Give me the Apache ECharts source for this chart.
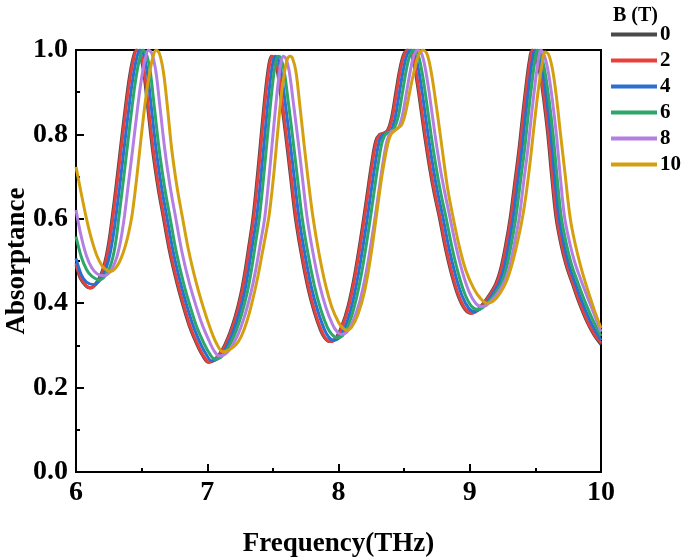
<!DOCTYPE html>
<html><head><meta charset="utf-8">
<script src="https://cdn.jsdelivr.net/npm/echarts@6/dist/echarts.min.js"></script>
<style>html,body{margin:0;padding:0;background:#fff}#c{width:685px;height:559px}</style>
</head><body><div id="c"></div>
<script>
const seriesNames = ['0', '2', '4', '6', '8', '10'];
const xTicks = [6, 7, 8, 9, 10];
const yTicks = [0, 0.2, 0.4, 0.6, 0.8, 1.0];

const b0 = [[6.00,0.490],[6.034,0.458],[6.074,0.441],[6.108,0.436],[6.144,0.444],[6.174,0.458],[6.204,0.480],[6.229,0.510],[6.252,0.550],[6.274,0.600],[6.304,0.675],[6.337,0.763],[6.374,0.860],[6.404,0.930],[6.434,0.980],[6.459,1.0],[6.484,0.992],[6.514,0.950],[6.544,0.870],[6.583,0.763],[6.624,0.675],[6.664,0.605],[6.714,0.520],[6.769,0.447],[6.824,0.385],[6.87,0.340],[6.924,0.300],[6.964,0.276],[7.009,0.260],[7.054,0.266],[7.094,0.280],[7.134,0.302],[7.174,0.332],[7.214,0.370],[7.254,0.420],[7.284,0.470],[7.314,0.530],[7.349,0.605],[7.384,0.710],[7.414,0.810],[7.444,0.905],[7.469,0.965],[7.489,0.985],[7.509,0.980],[7.534,0.950],[7.564,0.880],[7.604,0.780],[7.634,0.700],[7.67,0.605],[7.714,0.520],[7.764,0.440],[7.814,0.380],[7.864,0.335],[7.894,0.318],[7.929,0.309],[7.974,0.315],[8.024,0.345],[8.074,0.395],[8.124,0.470],[8.174,0.565],[8.214,0.650],[8.254,0.735],[8.284,0.785],[8.314,0.800],[8.344,0.803],[8.374,0.810],[8.404,0.840],[8.434,0.895],[8.464,0.950],[8.494,0.988],[8.524,1.0],[8.554,0.990],[8.584,0.950],[8.614,0.890],[8.654,0.800],[8.694,0.720],[8.729,0.660],[8.767,0.605],[8.814,0.530],[8.864,0.465],[8.914,0.415],[8.964,0.385],[9.009,0.376],[9.054,0.383],[9.104,0.400],[9.154,0.422],[9.199,0.447],[9.234,0.480],[9.274,0.540],[9.309,0.605],[9.344,0.690],[9.374,0.763],[9.404,0.850],[9.434,0.930],[9.454,0.975],[9.474,1.0],[9.504,0.985],[9.534,0.945],[9.564,0.880],[9.594,0.800],[9.624,0.700],[9.656,0.605],[9.694,0.540],[9.734,0.490],[9.781,0.447],[9.834,0.400],[9.894,0.355],[9.944,0.326],[10.0,0.302]];

const b2 = [[6.00,0.495],[6.04,0.458],[6.08,0.441],[6.114,0.436],[6.15,0.444],[6.18,0.458],[6.21,0.480],[6.235,0.510],[6.258,0.550],[6.28,0.600],[6.31,0.675],[6.343,0.763],[6.38,0.860],[6.41,0.930],[6.44,0.980],[6.465,1.0],[6.49,0.992],[6.52,0.950],[6.55,0.870],[6.589,0.763],[6.63,0.675],[6.67,0.605],[6.72,0.520],[6.775,0.447],[6.83,0.385],[6.876,0.340],[6.93,0.300],[6.97,0.276],[7.015,0.260],[7.06,0.266],[7.10,0.280],[7.14,0.302],[7.18,0.332],[7.22,0.370],[7.26,0.420],[7.29,0.470],[7.32,0.530],[7.355,0.605],[7.39,0.710],[7.42,0.810],[7.45,0.905],[7.475,0.965],[7.495,0.985],[7.515,0.980],[7.54,0.950],[7.57,0.880],[7.61,0.780],[7.64,0.700],[7.676,0.605],[7.72,0.520],[7.77,0.440],[7.82,0.380],[7.87,0.335],[7.90,0.318],[7.935,0.309],[7.98,0.315],[8.03,0.345],[8.08,0.395],[8.13,0.470],[8.18,0.565],[8.22,0.650],[8.26,0.735],[8.29,0.785],[8.32,0.800],[8.35,0.803],[8.38,0.810],[8.41,0.840],[8.44,0.895],[8.47,0.950],[8.50,0.988],[8.53,1.0],[8.56,0.990],[8.59,0.950],[8.62,0.890],[8.66,0.800],[8.70,0.720],[8.735,0.660],[8.773,0.605],[8.82,0.530],[8.87,0.465],[8.92,0.415],[8.97,0.385],[9.015,0.376],[9.06,0.383],[9.11,0.400],[9.16,0.422],[9.205,0.447],[9.24,0.480],[9.28,0.540],[9.315,0.605],[9.35,0.690],[9.38,0.763],[9.41,0.850],[9.44,0.930],[9.46,0.975],[9.48,1.0],[9.51,0.985],[9.54,0.945],[9.57,0.880],[9.60,0.800],[9.63,0.700],[9.662,0.605],[9.70,0.540],[9.74,0.490],[9.787,0.447],[9.84,0.400],[9.90,0.355],[9.95,0.326],[10.0,0.306]];

const b4 = [[6.00,0.506],[6.04,0.468],[6.08,0.450],[6.14,0.444],[6.175,0.452],[6.205,0.466],[6.235,0.488],[6.26,0.518],[6.282,0.556],[6.304,0.605],[6.332,0.675],[6.365,0.763],[6.402,0.860],[6.432,0.930],[6.462,0.980],[6.487,1.0],[6.512,0.992],[6.542,0.950],[6.572,0.870],[6.611,0.763],[6.652,0.675],[6.692,0.605],[6.742,0.520],[6.797,0.447],[6.852,0.386],[6.898,0.342],[6.952,0.302],[6.992,0.279],[7.035,0.263],[7.08,0.268],[7.12,0.282],[7.16,0.304],[7.20,0.334],[7.24,0.372],[7.28,0.420],[7.31,0.470],[7.34,0.530],[7.377,0.605],[7.412,0.710],[7.442,0.810],[7.472,0.905],[7.497,0.965],[7.518,0.985],[7.538,0.980],[7.562,0.950],[7.592,0.880],[7.632,0.780],[7.662,0.700],[7.698,0.605],[7.742,0.520],[7.792,0.440],[7.842,0.382],[7.892,0.338],[7.925,0.320],[7.96,0.312],[8.005,0.318],[8.055,0.347],[8.102,0.395],[8.152,0.470],[8.202,0.565],[8.242,0.650],[8.282,0.735],[8.312,0.785],[8.342,0.800],[8.372,0.803],[8.402,0.810],[8.432,0.840],[8.462,0.895],[8.492,0.950],[8.522,0.988],[8.552,1.0],[8.582,0.990],[8.612,0.950],[8.642,0.890],[8.682,0.800],[8.722,0.720],[8.757,0.660],[8.795,0.605],[8.842,0.530],[8.892,0.466],[8.942,0.417],[8.992,0.388],[9.035,0.380],[9.08,0.386],[9.13,0.402],[9.18,0.424],[9.225,0.449],[9.26,0.482],[9.298,0.540],[9.332,0.605],[9.367,0.690],[9.397,0.763],[9.427,0.850],[9.457,0.930],[9.477,0.975],[9.497,1.0],[9.527,0.985],[9.557,0.945],[9.587,0.880],[9.617,0.800],[9.647,0.700],[9.679,0.605],[9.717,0.540],[9.757,0.490],[9.804,0.447],[9.857,0.402],[9.917,0.358],[9.96,0.333],[10.0,0.312]];

const b6 = [[6.00,0.558],[6.04,0.510],[6.08,0.480],[6.12,0.464],[6.178,0.455],[6.215,0.462],[6.245,0.476],[6.27,0.496],[6.29,0.522],[6.308,0.556],[6.327,0.605],[6.355,0.675],[6.388,0.763],[6.425,0.860],[6.455,0.930],[6.485,0.980],[6.51,1.0],[6.535,0.992],[6.565,0.950],[6.595,0.870],[6.634,0.763],[6.675,0.675],[6.715,0.605],[6.765,0.520],[6.82,0.447],[6.875,0.387],[6.921,0.343],[6.975,0.305],[7.015,0.282],[7.058,0.267],[7.103,0.272],[7.143,0.286],[7.183,0.308],[7.223,0.337],[7.263,0.375],[7.303,0.423],[7.333,0.472],[7.363,0.532],[7.398,0.605],[7.433,0.710],[7.463,0.810],[7.493,0.905],[7.518,0.965],[7.541,0.985],[7.561,0.980],[7.586,0.950],[7.616,0.880],[7.656,0.780],[7.686,0.700],[7.722,0.605],[7.766,0.520],[7.816,0.442],[7.866,0.384],[7.916,0.342],[7.950,0.326],[7.988,0.318],[8.03,0.323],[8.078,0.350],[8.125,0.397],[8.175,0.470],[8.225,0.565],[8.265,0.650],[8.305,0.735],[8.335,0.785],[8.365,0.803],[8.395,0.806],[8.425,0.815],[8.455,0.842],[8.485,0.895],[8.515,0.950],[8.545,0.988],[8.575,1.0],[8.605,0.990],[8.635,0.950],[8.665,0.890],[8.705,0.800],[8.745,0.720],[8.78,0.660],[8.818,0.605],[8.865,0.532],[8.915,0.468],[8.965,0.420],[9.015,0.392],[9.06,0.385],[9.10,0.390],[9.15,0.405],[9.20,0.426],[9.245,0.450],[9.28,0.484],[9.318,0.542],[9.352,0.605],[9.387,0.690],[9.417,0.763],[9.447,0.850],[9.477,0.930],[9.497,0.975],[9.515,1.0],[9.545,0.985],[9.575,0.945],[9.605,0.880],[9.635,0.800],[9.665,0.700],[9.697,0.605],[9.735,0.542],[9.775,0.492],[9.822,0.450],[9.875,0.406],[9.935,0.362],[10.0,0.322]];

const b8 = [[6.00,0.621],[6.04,0.558],[6.08,0.512],[6.12,0.484],[6.16,0.470],[6.216,0.465],[6.25,0.471],[6.28,0.485],[6.31,0.508],[6.335,0.540],[6.352,0.570],[6.37,0.608],[6.398,0.680],[6.431,0.763],[6.468,0.860],[6.498,0.930],[6.528,0.980],[6.553,1.0],[6.578,0.992],[6.608,0.950],[6.638,0.870],[6.677,0.763],[6.718,0.675],[6.758,0.605],[6.808,0.520],[6.863,0.448],[6.918,0.390],[6.963,0.348],[7.015,0.310],[7.05,0.288],[7.09,0.275],[7.135,0.279],[7.175,0.292],[7.215,0.313],[7.255,0.342],[7.295,0.380],[7.335,0.428],[7.37,0.480],[7.404,0.540],[7.439,0.605],[7.474,0.710],[7.504,0.810],[7.534,0.905],[7.559,0.965],[7.579,0.985],[7.599,0.980],[7.624,0.950],[7.654,0.880],[7.694,0.780],[7.724,0.700],[7.76,0.605],[7.804,0.522],[7.854,0.446],[7.904,0.390],[7.954,0.350],[7.985,0.334],[8.02,0.326],[8.062,0.331],[8.11,0.357],[8.16,0.402],[8.21,0.472],[8.26,0.565],[8.30,0.650],[8.34,0.735],[8.37,0.785],[8.40,0.806],[8.43,0.810],[8.46,0.818],[8.487,0.845],[8.517,0.897],[8.547,0.950],[8.575,0.988],[8.605,1.0],[8.635,0.990],[8.665,0.950],[8.695,0.890],[8.735,0.800],[8.775,0.720],[8.81,0.662],[8.848,0.605],[8.895,0.535],[8.945,0.473],[8.995,0.427],[9.045,0.400],[9.09,0.392],[9.13,0.396],[9.18,0.411],[9.23,0.432],[9.27,0.455],[9.305,0.488],[9.343,0.545],[9.378,0.605],[9.412,0.690],[9.442,0.763],[9.472,0.850],[9.502,0.930],[9.522,0.975],[9.54,1.0],[9.57,0.985],[9.60,0.945],[9.63,0.880],[9.66,0.800],[9.69,0.700],[9.722,0.605],[9.76,0.545],[9.80,0.497],[9.847,0.455],[9.90,0.412],[9.95,0.372],[10.0,0.332]];

const b10 = [[6.00,0.723],[6.04,0.660],[6.08,0.600],[6.12,0.550],[6.16,0.512],[6.20,0.488],[6.235,0.478],[6.267,0.475],[6.30,0.483],[6.33,0.497],[6.36,0.520],[6.39,0.552],[6.41,0.580],[6.43,0.615],[6.46,0.690],[6.49,0.775],[6.525,0.870],[6.555,0.935],[6.585,0.982],[6.61,1.0],[6.635,0.992],[6.665,0.950],[6.695,0.870],[6.73,0.763],[6.77,0.675],[6.81,0.605],[6.86,0.522],[6.915,0.450],[6.97,0.390],[7.02,0.343],[7.07,0.305],[7.12,0.285],[7.17,0.290],[7.22,0.302],[7.26,0.322],[7.30,0.355],[7.34,0.400],[7.38,0.455],[7.42,0.520],[7.45,0.570],[7.473,0.612],[7.505,0.700],[7.535,0.800],[7.565,0.895],[7.59,0.950],[7.61,0.978],[7.63,0.985],[7.65,0.980],[7.675,0.950],[7.705,0.870],[7.74,0.770],[7.77,0.690],[7.805,0.605],[7.85,0.520],[7.90,0.445],[7.95,0.390],[8.00,0.355],[8.03,0.342],[8.062,0.336],[8.10,0.343],[8.15,0.375],[8.20,0.430],[8.25,0.520],[8.29,0.610],[8.33,0.700],[8.37,0.770],[8.40,0.800],[8.44,0.812],[8.48,0.822],[8.51,0.850],[8.545,0.905],[8.58,0.955],[8.61,0.988],[8.644,1.0],[8.675,0.990],[8.705,0.950],[8.735,0.890],[8.775,0.800],[8.805,0.730],[8.835,0.665],[8.872,0.605],[8.92,0.535],[8.97,0.478],[9.03,0.435],[9.08,0.412],[9.134,0.400],[9.18,0.405],[9.23,0.423],[9.28,0.452],[9.32,0.490],[9.36,0.540],[9.40,0.600],[9.43,0.660],[9.46,0.735],[9.49,0.820],[9.52,0.900],[9.545,0.955],[9.575,0.995],[9.60,0.990],[9.63,0.955],[9.66,0.890],[9.69,0.805],[9.725,0.710],[9.764,0.605],[9.80,0.545],[9.85,0.482],[9.90,0.430],[9.95,0.383],[10.0,0.341]];

const seriesData = [b0, b2, b4, b6, b8, b10];
const colors = ['#4a4a4a', '#e8413c', '#2a6fd2', '#2ca66b', '#b37fe2', '#d4a010'];

const FONT = '"Liberation Serif", "Times New Roman", serif';
const chart = echarts.init(document.getElementById('c'), null, {renderer: 'canvas'});
chart.setOption({
  animation: false,
  backgroundColor: '#fff',
  title: {
    text: 'B (T)', left: 608, top: 1,
    textStyle: {fontFamily: FONT, fontWeight: 'bold', fontSize: 20, color: '#000'}
  },
  legend: {
    orient: 'vertical', left: 606, top: 19,
    itemWidth: 46, itemHeight: 4, itemGap: 5,
    icon: 'rect',
    data: seriesNames,
    textStyle: {fontFamily: FONT, fontWeight: 'bold', fontSize: 21, color: '#000', lineHeight: 20, padding: [0, 0, 0, -2]}
  },
  grid: {left: 76, right: 84, top: 50, bottom: 87, show: true, borderColor: '#000', borderWidth: 2, backgroundColor: 'transparent', outerBoundsMode: 'none', containLabel: false},
  xAxis: {
    type: 'value', min: xTicks[0], max: xTicks[xTicks.length - 1], interval: 1,
    name: 'Frequency(THz)', nameLocation: 'middle', nameGap: 59,
    nameTextStyle: {fontFamily: FONT, fontWeight: 'bold', fontSize: 27, color: '#000'},
    axisLine: {show: true, lineStyle: {color: '#000', width: 2}},
    axisTick: {show: true, inside: true, length: 8, lineStyle: {color: '#000', width: 2}},
    minorTick: {show: true, splitNumber: 2, length: 4, lineStyle: {color: '#000', width: 2}},
    splitLine: {show: false},
    axisLabel: {fontFamily: FONT, fontWeight: 'bold', fontSize: 28, color: '#000', margin: 7}
  },
  yAxis: {
    type: 'value', min: yTicks[0], max: yTicks[yTicks.length - 1], interval: 0.2,
    name: 'Absorptance', nameLocation: 'middle', nameGap: 45, nameMoveOverlap: false,
    nameTextStyle: {fontFamily: FONT, fontWeight: 'bold', fontSize: 27, color: '#000'},
    axisLine: {show: true, lineStyle: {color: '#000', width: 2}},
    axisTick: {show: true, inside: true, length: 8, lineStyle: {color: '#000', width: 2}},
    minorTick: {show: true, splitNumber: 2, length: 4, lineStyle: {color: '#000', width: 2}},
    splitLine: {show: false},
    axisLabel: {fontFamily: FONT, fontWeight: 'bold', fontSize: 28, color: '#000', margin: 8,
      formatter: v => v.toFixed(1)}
  },
  series: seriesNames.map((n, i) => ({
    name: n, type: 'line', data: seriesData[i], showSymbol: false, symbol: 'none',
    smooth: 0.35, clip: true,
    lineStyle: {color: colors[i], width: 3},
    itemStyle: {color: colors[i]}
  }))
});
</script></body></html>
